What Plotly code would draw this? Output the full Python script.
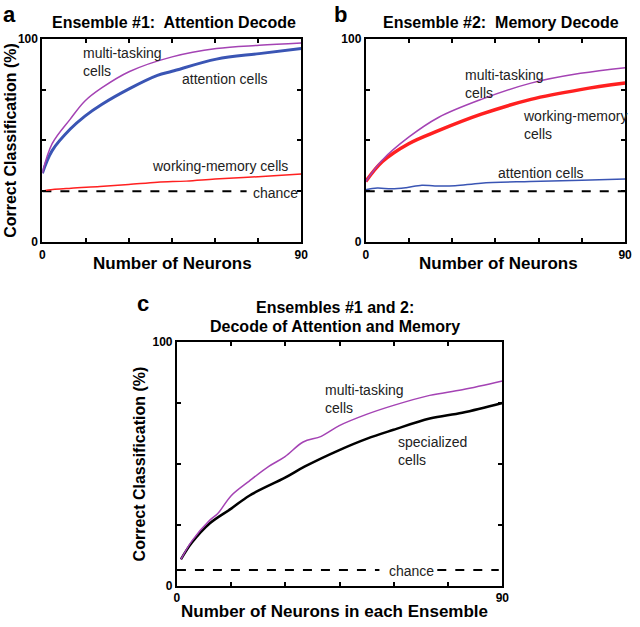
import plotly.graph_objects as go

W, H = 640, 627

# ---------------- data ----------------
# Panel a: Ensemble #1, attention decode
a_multi_x = [0, 3.4, 9.7, 14.8, 20.6, 30.3, 45.1, 60.5, 75.4, 90]
a_multi_y = [33.9, 48.4, 60.5, 69.4, 75.8, 83.9, 91.1, 95.2, 96.8, 97.9]
a_att_x = [0, 3.4, 9.7, 14.8, 20.6, 30.3, 40, 45.1, 60.5, 75.4, 90]
a_att_y = [33.9, 45.0, 55.6, 62.0, 67.7, 75.5, 82.0, 84.0, 90.0, 92.7, 95.2]
a_wm_x = [0, 2, 10, 20, 30, 40, 50, 60, 75, 90]
a_wm_y = [25.0, 25.6, 26.5, 27.3, 28.3, 29.5, 30.0, 31.0, 32.2, 33.5]
a_chance = 25
a_chance_x = [0, 71]

# Panel b: Ensemble #2, memory decode
b_multi_x = [0, 5.7, 14.9, 25.2, 40.1, 57.3, 74.5, 90]
b_multi_y = [29.8, 40.3, 51.6, 61.3, 70.2, 78.2, 83.0, 85.8]
b_wm_x = [0, 5.7, 14.9, 25.2, 40.1, 57.3, 74.5, 90]
b_wm_y = [29.8, 39.5, 48.4, 54.8, 62.9, 70.2, 75.0, 78.2]
b_att_x = [0, 4, 9, 14, 19.5, 24, 31, 40, 57, 75, 90]
b_att_y = [25.8, 26.6, 26.2, 26.8, 28.0, 27.6, 27.7, 29.0, 29.8, 30.4, 31.0]
b_chance = 25
b_chance_x = [0, 90]

# Panel c: Ensembles #1 and 2
c_multi_x = [1.1, 4.1, 9.1, 11.3, 15, 20, 25.4, 29.9, 34.9, 39.9, 44.9, 52.6, 59.9, 69.9, 78.9, 90]
c_multi_y = [10.8, 18.3, 26.9, 29.6, 36.9, 42.9, 48.9, 52.9, 58.9, 61.2, 65.6, 70.3, 73.9, 78.0, 80.3, 83.9]
c_spec_x = [1.1, 4.1, 9.1, 15, 20, 29.9, 35.4, 44.9, 52.6, 59.9, 69.9, 78.9, 90]
c_spec_y = [10.8, 17.6, 25.6, 31.6, 36.9, 44.3, 48.9, 55.6, 60.3, 63.9, 68.5, 70.9, 74.9]
c_chance = 6.5
c_chance_x1 = [0, 56]
c_chance_x2 = [72, 89]

x_ticks = [0, 15, 30, 45, 60, 75, 90]
x_ticktext = ["0", "", "", "", "", "", "90"]
y_ticks = [0, 25, 50, 75, 100]
y_ticktext = ["0", "", "", "", "100"]

PURPLE = "#a443b4"
BLUE = "#3a55b4"
RED = "#ff2020"
BLACK = "#000000"
FONT = "Liberation Sans, Arial, sans-serif"
TXT = "#222222"

fig = go.Figure()

def line(x, y, color, width, xa, ya, dash=None):
    fig.add_trace(go.Scatter(x=x, y=y, mode="lines", xaxis=xa, yaxis=ya,
                             line=dict(color=color, width=width, dash=dash),
                             line_shape="spline", hoverinfo="skip", showlegend=False))

# panel a
line(a_chance_x, [a_chance] * 2, BLACK, 2, "x", "y", "dash")
line(a_wm_x, a_wm_y, RED, 1.5, "x", "y")
line(a_att_x, a_att_y, BLUE, 3, "x", "y")
line(a_multi_x, a_multi_y, PURPLE, 1.5, "x", "y")
# panel b
line(b_chance_x, [b_chance] * 2, BLACK, 2, "x2", "y2", "dash")
line(b_att_x, b_att_y, BLUE, 1.5, "x2", "y2")
line(b_wm_x, b_wm_y, RED, 3.5, "x2", "y2")
line(b_multi_x, b_multi_y, PURPLE, 1.5, "x2", "y2")
# panel c
line(c_chance_x1, [c_chance] * 2, BLACK, 2, "x3", "y3", "dash")
line(c_chance_x2, [c_chance] * 2, BLACK, 2, "x3", "y3", "dash")
line(c_spec_x, c_spec_y, BLACK, 2.5, "x3", "y3")
line(c_multi_x, c_multi_y, PURPLE, 1.5, "x3", "y3")

def xax(domain, anchor):
    return dict(domain=domain, anchor=anchor, range=[0, 90], tickvals=x_ticks,
                ticktext=x_ticktext, ticks="inside", ticklen=4, tickwidth=1.5,
                tickcolor="black", showline=True, linecolor="black", linewidth=2,
                mirror="ticks", showgrid=False, zeroline=False,
                tickfont=dict(family=FONT, size=12, color="black", weight="bold"))

def yax(domain, anchor):
    return dict(domain=domain, anchor=anchor, range=[0, 100], tickvals=y_ticks,
                ticktext=y_ticktext, ticks="inside", ticklen=4, tickwidth=1.5,
                tickcolor="black", showline=True, linecolor="black", linewidth=2,
                mirror="ticks", showgrid=False, zeroline=False,
                tickfont=dict(family=FONT, size=12, color="black", weight="bold"))

ya_dom = [1 - 240.5 / H, 1 - 32.5 / H]
yc_dom = [1 - 592 / H, 1 - 342.3 / H]

fig.update_layout(
    width=W, height=H, margin=dict(l=0, r=0, t=0, b=0),
    paper_bgcolor="white", plot_bgcolor="white",
    font=dict(family=FONT, color=TXT),
    xaxis=xax([40 / W, 303 / W], "y"),
    yaxis=yax(ya_dom, "x"),
    xaxis2=xax([368.5 / W, 632 / W], "y2"),
    yaxis2=yax(ya_dom, "x2"),
    xaxis3=xax([176.7 / W, 507.3 / W], "y3"),
    yaxis3=yax(yc_dom, "x3"),
)

def ptext(text, x, y, size, bold=True, angle=0, xanchor="center"):
    fig.add_annotation(text=text, x=x / W, y=1 - y / H, xref="paper", yref="paper",
                       showarrow=False, textangle=angle, xanchor=xanchor, yanchor="middle",
                       font=dict(family=FONT, size=size, color="black",
                                 weight="bold" if bold else "normal"))

# panel letters
ptext("a", 7, 8, 22)
ptext("b", 343, 8, 22)
ptext("c", 142, 303, 22)
# titles
ptext("Ensemble #1:  Attention Decode", 174, 16, 16)
ptext("Ensemble #2:  Memory Decode", 506, 16, 16)
ptext("Ensembles #1 and 2:", 337, 307, 16)
ptext("Decode of Attention and Memory", 337, 327, 16)
# axis titles
ptext("Number of Neurons", 172, 262, 17)
ptext("Number of Neurons", 503, 262, 17)
ptext("Number of Neurons in each Ensemble", 337, 618, 17)
ptext("Correct Classification (%)", 8, 136, 16, angle=-90)
ptext("Correct Classification (%)", 139, 467, 16, angle=-90)

def dtext(text, x, y, xa, ya):
    fig.add_annotation(text=text, x=x, y=y, xref=xa, yref=ya, showarrow=False,
                       xanchor="left", yanchor="middle", align="left",
                       font=dict(family=FONT, size=14, color=TXT))

dtext("multi-tasking<br>cells", 13.3, 88.5, "x", "y")
dtext("attention cells", 47.9, 80.0, "x", "y")
dtext("working-memory cells", 37.3, 37.3, "x", "y")
dtext("chance", 72.5, 24.3, "x", "y")
dtext("multi-tasking<br>cells", 33.6, 77.9, "x2", "y2")
dtext("working-memory<br>cells", 53.8, 57.7, "x2", "y2")
dtext("attention cells", 45.3, 33.9, "x2", "y2")
dtext("multi-tasking<br>cells", 40.4, 76.5, "x3", "y3")
dtext("specialized<br>cells", 60.5, 55.3, "x3", "y3")
dtext("chance", 58.2, 6.0, "x3", "y3")

fig.write_html("out.html", config={"displayModeBar": False},
               post_script="document.body.style.margin='0';document.body.style.overflow='hidden';")
